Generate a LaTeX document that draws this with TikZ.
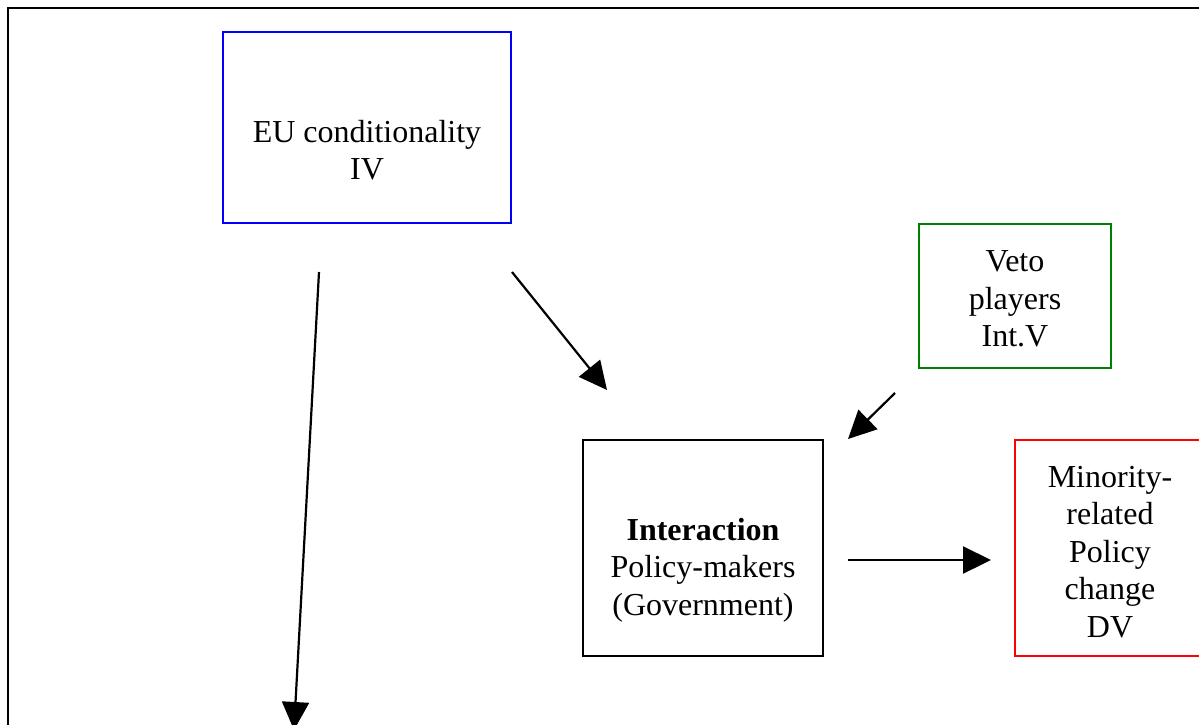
\documentclass[tikz,border=0pt]{standalone}
\usepackage{fontspec}
\setmainfont{Liberation Serif}
\usetikzlibrary{arrows.meta}
\begin{document}
\begin{tikzpicture}[x=1pt,y=-1pt,
  box/.style={draw,line width=1.5pt,inner sep=0pt},
  lbl/.style={align=center,inner sep=0pt,font=\fontsize{32}{37.5}\selectfont},
  arr/.style={line width=2.2pt,-{Triangle[length=28pt,width=27pt]}}]
\useasboundingbox (0,0) rectangle (1199,724);
\clip (0,0) rectangle (1199,724);
\fill[white] (0,0) rectangle (1199,724);
\draw[line width=2.5pt] (8,8) rectangle (1240,780);
% boxes
\node[box,draw={rgb,255:red,0;green,0;blue,255},minimum width=288pt,minimum height=191pt] (eu) at (367,127.5) {};
\node[box,draw={rgb,255:red,0;green,128;blue,0},minimum width=192pt,minimum height=144pt] (veto) at (1015,296) {};
\node[box,draw=black,minimum width=240pt,minimum height=216pt] (inter) at (703,548) {};
\node[box,draw={rgb,255:red,255;green,0;blue,0},minimum width=190pt,minimum height=216pt] (dv) at (1110,548) {};
% labels
\node[lbl] (euT) at (367,150) {EU conditionality\\IV};
\node[lbl] (vetoT) at (1015,299) {Veto\\players\\Int.V};
\node[lbl] (interT) at (703,570) {\textbf{Interaction}\\Policy-makers\\(Government)};
\node[lbl] (dvT) at (1110,552) {Minority-\\related\\Policy\\change\\DV};
% connector ends
\coordinate (a1s) at (319,272);
\coordinate (a1e) at (294,730);
\coordinate (a2s) at (512,272);
\coordinate (a2e) at (607,390);
\coordinate (a3s) at (895,393);
\coordinate (a3e) at (848,439);
\coordinate (a4s) at (848,560);
\coordinate (a4e) at (991,560);
\draw[arr] (a1s) -- (a1e);
\draw[arr] (a2s) -- (a2e);
\draw[arr] (a3s) -- (a3e);
\draw[arr] (a4s) -- (a4e);
\end{tikzpicture}
\end{document}
